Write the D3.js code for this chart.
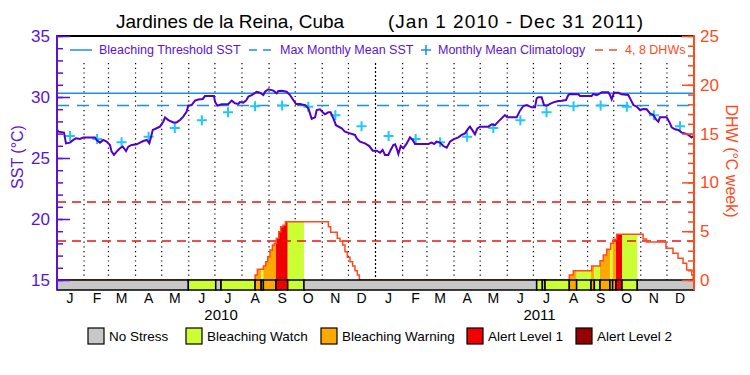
<!DOCTYPE html>
<html>
<head>
<meta charset="utf-8">
<script src="https://cdn.jsdelivr.net/npm/d3@7/dist/d3.min.js"></script>
<style>
  body { margin: 0; background: #fff; }
  text { font-family: "Liberation Sans", Arial, sans-serif; }
</style>
</head>
<body>
<div id="chart"></div>
<script>
// all days are counted from Jan 1 2010
var sstDay = [0, 1.5, 8, 10.3, 14.9, 18.7, 21.8, 26.4, 30.2, 43.5, 45.4, 49.3, 53, 56.9, 60.7, 62.6, 65.3, 68.4, 72.2, 75.3,
  76.8, 79.1, 81.7, 85.6, 91.3, 95.1, 99, 102.8, 105.8, 107.4, 109.7, 112.3, 118, 121.9, 123.8, 127.6, 133.3, 137.1, 141, 144.7,
  148.6, 150.5, 154.3, 158.1, 162, 167, 169.6, 179.9, 181.1, 183.7, 188.7, 196.4, 200.2, 204, 207.8, 209.7, 213.5, 216.6, 219.3, 223.1,
  228.8, 232.6, 236.5, 238.4, 242.2, 247.9, 251.8, 253.7, 257.5, 263.2, 267, 270.8, 273.9, 278.5, 284.2, 288, 289.9, 291.9, 295.7, 297.6,
  301.4, 304.5, 307.1, 310.9, 313.6, 316.7, 319.7, 326.3, 330, 335.8, 341.5, 343.5, 347.2, 353, 357.9, 361.8, 366.4, 370.2, 373.2, 375.9,
  379.7, 382.4, 385.4, 387.4, 389.3, 391.2, 393.9, 396.9, 400.8, 404.5, 407.6, 410.3, 425.6, 429.4, 432.1, 435.1, 438.9, 442.7, 446.6, 450.4,
  454.2, 459.9, 463.8, 467.6, 471.4, 473.3, 477.1, 479, 481.7, 484.8, 494.3, 498.1, 501.9, 505.7, 511.5, 513.4, 516, 526.8, 530.6, 534.4,
  538.3, 544, 547.8, 549.7, 551.6, 555.4, 558.1, 561.2, 565, 568.8, 574.5, 578.4, 583.3, 586, 587.9, 597.4, 599.4, 612.7, 614.6, 618.5,
  622.3, 624.2, 631.8, 633.7, 635.7, 638.3, 643.3, 647.1, 654.7, 658.6, 660.5, 664.3, 668.1, 671.9, 675.8, 679.6, 683.4, 686.5, 689.1, 691,
  698.7, 702.5, 704.4, 708.2, 712, 715.9, 719.7, 723.5, 727.3, 729];
var sstVal = [27.35, 27.16, 27.08, 26.2, 26.26, 26.48, 26.61, 26.56, 26.69, 26.69, 26.48, 26.26, 26.48, 26.34, 26.07, 25.52, 25.25, 25.52, 25.8, 25.93,
  25.8, 25.57, 25.93, 26.07, 26.12, 26.26, 26.39, 26.48, 26.2, 26.61, 27.3, 27.38, 27.57, 27.98, 28.33, 28.11, 27.92, 27.92, 28.11, 28.39,
  28.8, 29.29, 29.34, 29.7, 29.8, 29.84, 30.08, 30.08, 29.62, 29.29, 29.4, 29.43, 29.7, 29.48, 29.43, 29.59, 29.54, 29.7, 30.03, 30.16,
  30.43, 30.35, 30.16, 30.43, 30.63, 30.52, 30.3, 30.49, 30.52, 30.43, 30.16, 29.75, 29.43, 29.43, 29.34, 29.07, 28.66, 28.2, 28.33, 28.93,
  28.99, 28.74, 28.58, 28.74, 28.74, 28.25, 27.69, 27.43, 27.16, 27.02, 26.89, 26.61, 26.34, 26.2, 25.98, 25.6, 25.6, 25.43, 25.66, 25.25,
  25.25, 25.66, 26.07, 26.12, 25.8, 25.33, 25.98, 25.8, 26.2, 26.69, 26.48, 26.15, 26.15, 26.26, 26.15, 26.34, 26.26, 25.98, 25.85, 26.34,
  26.53, 26.69, 26.89, 27.02, 27.43, 27.57, 27.16, 26.94, 27.43, 27.57, 27.57, 27.76, 27.69, 27.98, 28.39, 28.52, 28.33, 28.33, 28.88, 29.26,
  29.34, 29.15, 29.15, 29.89, 29.98, 29.98, 29.34, 29.29, 29.43, 29.56, 29.67, 29.7, 29.75, 30.16, 30.25, 30.22, 30.08, 30.08, 30.25, 30.16,
  30.3, 30.38, 30.38, 30.16, 29.8, 30.35, 30.35, 30.22, 30.16, 29.62, 29.34, 29.21, 28.93, 29.02, 28.99, 28.66, 28.52, 28.17, 27.98, 28.33,
  28.33, 27.84, 27.51, 27.35, 27.3, 27.08, 27.02, 26.89, 26.69, 26.8];

// monthly mean climatology, Jan..Dec
var climVal = [26.8, 26.55, 26.3, 26.75, 27.45, 28.1, 28.75, 29.25, 29.3, 29.2, 28.5, 27.6];
var mmm = 29.3;
var bleachThreshold = 30.3;
var dhwLevels = [4, 8];

// degree heating weeks (step values)
var dhwDay = [0, 227, 229.6, 236.5, 239.2, 241.5, 244.1, 246.8, 249.1, 251.4, 254.1, 256.4, 259, 261.7, 311, 313.6, 321.2, 324.3, 327.4, 330,
  332.7, 335.8, 338.8, 341.5, 344.2, 346.5, 587.1, 591.7, 612.7, 622.3, 626.1, 629.9, 634.5, 637.5, 641.4, 671.7, 675.6, 697.9, 705.9, 711.7,
  717.4, 721.6, 727.4, 729, 730];
var dhwVal = [0, 0.51, 1.09, 1.43, 1.88, 2.39, 3.07, 3.59, 3.76, 4.27, 4.95, 5.46, 5.6, 5.98, 5.46, 4.88, 4.27, 3.96, 3.59, 2.9,
  2.32, 1.88, 1.43, 0.96, 0.51, 0, 0.51, 0.96, 1.43, 1.98, 2.56, 3.14, 3.76, 4.17, 4.68, 4.2, 3.9, 3.25, 2.73, 2.22,
  1.71, 1.02, 0.51, 0, 0];

// bleaching stress periods: 0 none, 1 watch, 2 warning, 3 alert 1, 4 alert 2
var stressBreaks = [0, 150.5, 181.9, 188, 227, 234, 236.5, 251, 264.4, 283, 549.7, 556.2, 559.3, 587.1, 595.5, 612, 615.8, 622.3, 633.7, 636.7,
  640.6, 647.5, 665, 730];
var stressLevel = [0, 1, 0, 1, 2, 1, 2, 3, 1, 0, 1, 0, 1, 2, 1, 2, 1, 2, 1, 2, 3, 1, 0];

var monthLabels = ["J", "F", "M", "A", "M", "J", "J", "A", "S", "O", "N", "D"];
var yearLabels = ["2010", "2011"];
var stressNames = ["No Stress", "Bleaching Watch", "Bleaching Warning", "Alert Level 1", "Alert Level 2"];

var stressColors = ["#c8c8c8", "#ccff33", "#ffa800", "#f00000", "#960000"];
var purple = "#5a14d2", lineCol = "#5000c8", orange = "#ff4a1c", blue = "#1e8cf0", cyan = "#1ec8ff", red = "#ee1111";

var margin = {top: 36, right: 56, bottom: 85, left: 57},
    width = 750 - margin.left - margin.right,
    height = 375 - margin.top - margin.bottom;

var svgRoot = d3.select("#chart").append("svg")
    .attr("width", 750).attr("height", 375);
var defs = svgRoot.append("defs");
var svg = svgRoot.append("g")
    .attr("transform", "translate(" + margin.left + "," + margin.top + ")");

var t0 = new Date(2010, 0, 1);
function dayDate(d) { return new Date(t0.getTime() + d * 86400000); }

var x = d3.scaleTime().domain([t0, new Date(2012, 0, 1)]).range([0, width]);
var barH = 10;
var ySst = d3.scaleLinear().domain([15, 35]).range([height - barH, 0]);
var yDhw = d3.scaleLinear().domain([0, 25]).range([height - barH, 0]);

// month grid (dotted), year boundary denser
var months = d3.timeMonth.range(new Date(2010, 1, 1), new Date(2012, 0, 1));
svg.selectAll(".mgrid").data(months).enter().append("line")
  .attr("x1", d => x(d)).attr("x2", d => x(d))
  .attr("y1", 27).attr("y2", height - barH)
  .attr("stroke", "#000").attr("stroke-width", 1.2)
  .attr("stroke-dasharray", d => d.getMonth() == 0 ? "2,2" : "1.2,3.5");

// stress fill under DHW curve
var dhwData = dhwDay.map((d, i) => [d, dhwVal[i]]);
var area = d3.area().curve(d3.curveStepAfter)
  .x(d => x(dayDate(d[0]))).y0(yDhw(0)).y1(d => yDhw(d[1]));
stressLevel.forEach(function(lv, i) {
  if (lv == 0) return;
  var x0 = x(dayDate(stressBreaks[i])), x1 = x(dayDate(stressBreaks[i + 1]));
  defs.append("clipPath").attr("id", "seg" + i)
    .append("rect").attr("x", x0).attr("y", 0).attr("width", x1 - x0).attr("height", height);
  svg.append("path").datum(dhwData)
    .attr("d", area).attr("fill", stressColors[lv])
    .attr("clip-path", "url(#seg" + i + ")");
});

// 4, 8 DHW lines
svg.selectAll(".dhwlev").data(dhwLevels).enter().append("line")
  .attr("x1", 0).attr("x2", width)
  .attr("y1", d => yDhw(d)).attr("y2", d => yDhw(d))
  .attr("stroke", red).attr("stroke-width", 1.5).attr("stroke-dasharray", "9,6");

// DHW line
svg.append("path").datum(dhwData)
  .attr("fill", "none").attr("stroke", orange).attr("stroke-width", 1.5)
  .attr("d", d3.line().curve(d3.curveStepAfter).x(d => x(dayDate(d[0]))).y(d => yDhw(d[1])));

// stress bar
stressLevel.forEach(function(lv, i) {
  var x0 = x(dayDate(stressBreaks[i])), x1 = x(dayDate(stressBreaks[i + 1]));
  svg.append("rect")
    .attr("x", x0).attr("y", height - barH).attr("width", x1 - x0).attr("height", barH)
    .attr("fill", stressColors[lv]).attr("stroke", "#000").attr("stroke-width", 1.5);
});

// threshold / MMM
svg.append("line").attr("x1", 0).attr("x2", width)
  .attr("y1", ySst(bleachThreshold)).attr("y2", ySst(bleachThreshold))
  .attr("stroke", blue).attr("stroke-width", 1.5);
svg.append("line").attr("x1", 0).attr("x2", width)
  .attr("y1", ySst(mmm)).attr("y2", ySst(mmm))
  .attr("stroke", blue).attr("stroke-width", 1.5).attr("stroke-dasharray", "12,8");

// climatology crosses, mid month both years
var climData = [];
[2010, 2011].forEach(function(yr) {
  climVal.forEach(function(v, m) { climData.push({date: new Date(yr, m, 16), v: v}); });
});
svg.selectAll(".clim").data(climData).enter().append("path")
  .attr("transform", d => "translate(" + x(d.date) + "," + ySst(d.v) + ")")
  .attr("d", "M-5,0H5M0,-5V5")
  .attr("stroke", cyan).attr("stroke-width", 2);

// SST line
svg.append("path").datum(sstDay.map((d, i) => [d, sstVal[i]]))
  .attr("fill", "none").attr("stroke", lineCol).attr("stroke-width", 2)
  .attr("d", d3.line().x(d => x(dayDate(d[0]))).y(d => ySst(d[1])));

// frame
svg.append("line").attr("x1", 0).attr("x2", width).attr("y1", 0).attr("y2", 0)
  .attr("stroke", "#000").attr("stroke-width", 2);

// left axis
var yMinor = d3.range(15, 36, 1);
svg.append("g").call(d3.axisLeft(ySst).tickValues(yMinor).tickSize(-6).tickFormat(""))
  .call(g => g.select(".domain").remove())
  .selectAll("line").attr("stroke", purple).attr("stroke-width", 1.5);
var gl = svg.append("g").call(d3.axisLeft(ySst).tickValues([15, 20, 25, 30, 35]).tickSize(-13).tickPadding(7));
gl.select(".domain").remove();
gl.selectAll("line").attr("stroke", purple).attr("stroke-width", 1.5);
gl.selectAll("text").attr("fill", purple).style("font-size", "17px");
svg.append("line").attr("x1", 0).attr("x2", 0).attr("y1", -1).attr("y2", height)
  .attr("stroke", purple).attr("stroke-width", 2);

// right axis
var gr0 = svg.append("g").attr("transform", "translate(" + width + ",0)")
  .call(d3.axisRight(yDhw).tickValues(d3.range(0, 26, 1)).tickSize(-6).tickFormat(""));
gr0.select(".domain").remove();
gr0.selectAll("line").attr("stroke", orange).attr("stroke-width", 1.5);
var gr = svg.append("g").attr("transform", "translate(" + width + ",0)")
  .call(d3.axisRight(yDhw).tickValues([0, 5, 10, 15, 20, 25]).tickSize(-12).tickPadding(6));
gr.select(".domain").remove();
gr.selectAll("line").attr("stroke", orange).attr("stroke-width", 1.5);
gr.selectAll("text").attr("fill", orange).style("font-size", "17px");
svg.append("line").attr("x1", width).attr("x2", width).attr("y1", -1).attr("y2", height)
  .attr("stroke", orange).attr("stroke-width", 2);

// month & year labels
var monthMids = d3.timeMonth.range(t0, new Date(2012, 0, 1)).map(d => new Date(d.getFullYear(), d.getMonth(), 16));
svg.selectAll(".mlab").data(monthMids).enter().append("text")
  .attr("x", d => x(d)).attr("y", height + 13)
  .attr("text-anchor", "middle").style("font-size", "14px")
  .text(d => monthLabels[d.getMonth()]);
svg.selectAll(".ylab").data(yearLabels).enter().append("text")
  .attr("x", d => x(new Date(+d, 6, 8))).attr("y", height + 30)
  .attr("text-anchor", "middle").style("font-size", "15px")
  .text(d => d);

// axis titles
svgRoot.append("text").attr("transform", "translate(17,157) rotate(-90)")
  .attr("text-anchor", "middle").attr("dominant-baseline", "central")
  .attr("fill", purple).style("font-size", "16px").text("SST (°C)");
svgRoot.append("text").attr("transform", "translate(731,161) rotate(90)")
  .attr("text-anchor", "middle").attr("dominant-baseline", "central")
  .attr("fill", orange).style("font-size", "16px").text("DHW (°C week)");

// title
svgRoot.append("text").attr("x", 116).attr("y", 28).style("font-size", "19px")
  .attr("textLength", 228).attr("lengthAdjust", "spacing")
  .text("Jardines de la Reina, Cuba");
svgRoot.append("text").attr("x", 388).attr("y", 28).style("font-size", "19px")
  .attr("textLength", 255).attr("lengthAdjust", "spacing")
  .text("(Jan 1 2010 - Dec 31 2011)");

// top legend
var lg = svgRoot.append("g").attr("transform", "translate(0,50)");
lg.append("line").attr("x1", 70).attr("x2", 92).attr("stroke", blue).attr("stroke-width", 1.5);
lg.append("text").attr("x", 99).attr("y", 4).attr("fill", purple).style("font-size", "12.5px").text("Bleaching Threshold SST");
lg.append("line").attr("x1", 249).attr("x2", 273).attr("stroke", blue).attr("stroke-width", 1.5).attr("stroke-dasharray", "8,6");
lg.append("text").attr("x", 280).attr("y", 4).attr("fill", purple).style("font-size", "12.5px").text("Max Monthly Mean SST");
lg.append("path").attr("d", "M421,0H431M426,-5V5").attr("stroke", blue).attr("stroke-width", 1.5);
lg.append("text").attr("x", 438).attr("y", 4).attr("fill", purple).style("font-size", "12.5px").text("Monthly Mean Climatology");
lg.append("line").attr("x1", 595).attr("x2", 618).attr("stroke", orange).attr("stroke-width", 1.5).attr("stroke-dasharray", "8,6");
lg.append("text").attr("x", 625).attr("y", 4).attr("fill", orange).style("font-size", "12.5px").text("4, 8 DHWs");

// bottom legend
var legX = [88, 186, 321, 467, 576];
var bl = svgRoot.append("g").attr("transform", "translate(0,328)");
stressNames.forEach(function(n, i) {
  bl.append("rect").attr("x", legX[i]).attr("y", 0).attr("width", 16).attr("height", 16)
    .attr("fill", stressColors[i]).attr("stroke", "#000").attr("stroke-width", 1.2);
  bl.append("text").attr("x", legX[i] + 21).attr("y", 13).style("font-size", "13.5px").text(n);
});
</script>
</body>
</html>
